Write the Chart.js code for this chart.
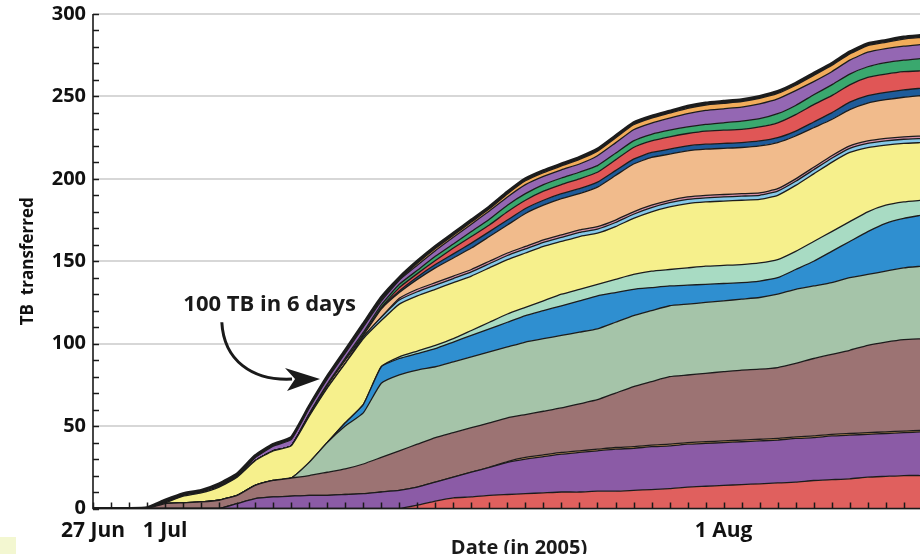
<!DOCTYPE html>
<html>
<head>
<meta charset="utf-8">
<script src="https://cdn.jsdelivr.net/npm/chart.js@4/dist/chart.umd.min.js"></script>
<style>
  html, body { margin: 0; padding: 0; background: #fff; overflow: hidden; }
  #wrap { position: relative; width: 920px; height: 554px; }
  #corner { position: absolute; left: 0; top: 537px; width: 16px; height: 17px; background: #f3f7d1; }
</style>
</head>
<body>
<div id="wrap">
  <canvas id="c" width="920" height="554"></canvas>
  <div id="corner"></div>
</div>
<script>
// Days counted from 27 June 2005
const days = [0,1,2,3,4,5,6,7,8,9, 10,11,12,13,14,15,16,17,18,19, 20,21,22,23,24,25,26,27,28,29,
  30,31,32,33,34,35,36,37,38,39, 40,41,42,43,44,45,46];

// Tick labels on the date axis
const dateTickDays = [0, 4, 35];
const dateTickLabels = ['27 Jun', '1 Jul', '1 Aug'];

// Cumulative TB transferred: upper edge of each band, bottom band first
const redBase = [0,0,0,0,0,0,0,0,0,0, 0,0,0,0,0,0,0,0,2,4.5, 6.5,7,8,8.5,9,9.5,10,10,10.5,10.5,
  11,11.5,12,13,13.5,14,14.5,15,15.5,16, 17,17.5,18,19,19.5,20,20];
const purpleBase = [0,0,0,0,0,0,0,0,3,6, 7,7.5,8,8,8.5,9,10,11,13,16, 19,22,25,28,30,31.5,33,34,35,36,
  36.5,37.5,38,39,39.5,40,40.5,41,41.5,42.5, 43,44,44.5,45,45.5,46,46.5];
const orangeThin = [0,0,0,0,0,0,0,0,3,6, 7,7.5,8,8,8.5,9,10,11,13,16, 19,22,25,28.5,31,32.5,34,35,36,37,
  37.5,38.5,39,40,40.5,41,41.5,42,42.5,43.5, 44,45,45.5,46,46.5,47,47.5];
const mauve = [0,0,0,0,3,3.5,4,5,8,14, 17,18.5,20,22,24,27,31,35,39,43, 46,49,52,55,57,59,61,63.5,66,70,
  74,77,80,81,82,83,84,84.5,85.5,88, 91,93.5,96,99,101,102.5,103];
const sage = [0,0,0,0,3,3.5,4,5,8,14, 17,18.5,28,40,50,58,76,81,84,86, 89,92,95,98,101,103,105,107,109,113,
  117,120,123,124,125,126,127,128,130,133, 135,137,140,142,144,146,147];
const blue = [0,0,0,0,3,3.5,4,5,8,14, 17,18.5,28,40,52,63,86,91,94,97, 101,105,109,113,117,120,123,126,129,131,
  133,134,135,135.5,136,136.5,137,138,140,145, 150,156,162,168,173,176,178];
const teal = [0,0,0,0,3,3.5,4,5,8,14, 17,18.5,28,40,52,63,86,92,95.5,99, 103,108,113,118,122,126,130,133,136,139,
  142,144,145,146,147,147.5,148,149,151,156, 162,168,174,180,184,186,187];
const yellow = [0,0,0,0.2,3.5,7.5,9.5,13,19,29, 35,38,56,73,88,103,114,124,129,133, 137,141,146,151,155,159,162,165,167,171,
  176,180,183,185,186,186.5,187,187.5,190,196, 203,210,216,219,220.5,221.5,222];
const lightBlue = [0,0,0,0.2,3.5,7.5,9.5,13,19,29, 35,38,56,73,88,104,116,126.5,131.5,135.5, 139.5,143.5,148.5,153.5,157.5,161.5,164.5,167.5,169.5,173.5,
  178.5,182.5,185.5,187.5,188.5,189,189.5,190,192.5,198.5, 205.5,212.5,218.5,221.5,223,224,224.5];
const pink = [0,0,0,0.2,3.5,7.5,9.5,13,19,29, 35,38,56,73,88,104,116,127.5,133,137, 141,145,150,155,159,163,166,169,171,175,
  180,184,187,189,190,190.5,191,191.5,194,200, 207,214,220,223,224.5,225.5,226];
const peach = [0,0,0,0.2,3.5,7.5,9.5,13,19,29, 35,38,57,74.5,90,105,121,131,139,146, 152,158,165,172,179,184,188,191,195,202,
  209,213,215,217,218,218.5,219,220,222,226, 231,236,242,246,248,249.5,250.5];
const darkBlue = [0,0,0,0.2,3.5,7.5,9.5,13,19,29, 35,38,57,74.5,90,105.3,121.5,132,140.5,148, 154.5,161,168,175,182,187,191,194,198,205,
  212,216,218,220,221,221.5,222,223,225,229, 234.5,240,246.5,250.5,252.5,254,255];
const red = [0,0,0,0.2,3.5,7.5,9.5,13,19,29, 35,38,57,74.5,90,105.3,122,134,142.5,150.5, 158,165,172,180,187,192.5,196.5,200,204,211.5,
  219,223,225.5,227.5,229,229.5,230,231.5,234,239, 245,250.5,257,261.5,263.5,265,265.5];
const green = [0,0,0,0.2,3.5,7.5,9.5,13,19,29, 35,38,57.5,75.5,91.3,106.8,123.5,136,144.5,153, 160.5,168,175.5,184,191,196.5,200.5,204,208,215.5,
  223,227,229.5,231.5,233,234,235,236.5,239.5,244.5, 251,257,263.5,268,270.5,272,273];
const purple = [0,0,0,0.2,3.8,7.8,9.8,13.8,19.8,30.8, 37.8,41.8,60.8,78.5,94.3,110.1,125.8,138.5,147.6,156.4, 164.5,172.5,180.5,189,196.5,201.5,205.5,209,214,221.8,
  229.8,233.8,236.8,239.6,241.5,242.5,243.5,245.5,248.5,253.5, 259,265,272,276.8,279,280.5,281.5];
const orange = [0,0,0,0.2,3.8,7.8,9.8,13.8,19.8,30.8, 37.8,41.8,60.8,78.8,94.8,110.8,126.8,138.8,148.8,157.8, 165.8,173.8,181.8,190.8,198.8,203.8,207.8,211.8,216.8,224.8,
  232.8,236.8,239.8,242.8,244.8,245.8,246.8,248.8,251.8,256.8, 262.8,268.8,275.8,280.8,282.8,284.8,285.8];
const total = [0,0,0,0.5,5,9,11,15,21,32, 39,43,62,80,96,112,128,140,150,159, 167,175,183,192,200,205,209,213,218,226,
  234,238,241,244,246,247,248,250,253,258, 264,270,277,282,284,286,287];

const bands = [
  { name: 'redBase',    values: redBase,    color: '#e0605e' },
  { name: 'purpleBase', values: purpleBase, color: '#8b5ba6' },
  { name: 'orangeThin', values: orangeThin, color: '#d9a05c' },
  { name: 'mauve',      values: mauve,      color: '#9c7373' },
  { name: 'sage',       values: sage,       color: '#a5c4a9' },
  { name: 'blue',       values: blue,       color: '#2f8fd0' },
  { name: 'teal',       values: teal,       color: '#a8dbc3' },
  { name: 'yellow',     values: yellow,     color: '#f6f08c' },
  { name: 'lightBlue',  values: lightBlue,  color: '#86c8e8' },
  { name: 'pink',       values: pink,       color: '#d891a8' },
  { name: 'peach',      values: peach,      color: '#f1bb8c' },
  { name: 'darkBlue',   values: darkBlue,   color: '#1e5b9a' },
  { name: 'red',        values: red,        color: '#e05656' },
  { name: 'green',      values: green,      color: '#3aa86e' },
  { name: 'purple',     values: purple,     color: '#9467b3' },
  { name: 'orange',     values: orange,     color: '#f2ac5a' },
  { name: 'total',      values: total,      color: '#2c2c3c' }
];

const FONT = "'Open Sans', 'Liberation Sans', sans-serif";

const datasets = bands.map((b, i) => ({
  label: b.name,
  data: days.map((d, k) => ({ x: d, y: b.values[k] })),
  backgroundColor: b.color,
  borderColor: '#1c1c1c',
  borderWidth: i === bands.length - 1 ? 3 : 1.3,
  fill: i === 0 ? 'origin' : '-1',
  pointRadius: 0,
  tension: 0.15
}));

// Inward tick marks, axis lines, annotation and the date axis title
const chartMarks = {
  id: 'chartMarks',
  afterDatasetsDraw(chart) {
    const { ctx, chartArea: a, scales: { x, y } } = chart;
    ctx.save();
    ctx.strokeStyle = '#1a1a1a';
    ctx.lineWidth = 1.5;
    for (let d = 0; d <= 45; d++) {
      const px = Math.round(x.getPixelForValue(d)) + 0.5;
      ctx.beginPath(); ctx.moveTo(px, a.bottom); ctx.lineTo(px, a.bottom - 6); ctx.stroke();
    }
    for (let v = 0; v <= 300; v += 10) {
      const py = Math.round(y.getPixelForValue(v)) + 0.5;
      ctx.beginPath(); ctx.moveTo(a.left, py); ctx.lineTo(a.left + 6, py); ctx.stroke();
    }
    ctx.lineWidth = 1.6;
    ctx.beginPath();
    ctx.moveTo(a.left, a.top);
    ctx.lineTo(a.left, a.bottom);
    ctx.lineTo(a.right, a.bottom);
    ctx.stroke();
    ctx.restore();
  },
  afterDraw(chart) {
    const { ctx, scales: { x, y } } = chart;
    ctx.save();
    ctx.fillStyle = '#1a1a1a';
    ctx.font = `bold 22px ${FONT}`;
    ctx.textAlign = 'center';
    ctx.textBaseline = 'middle';
    ctx.fillText('100 TB in 6 days', x.getPixelForValue(9.8), y.getPixelForValue(123.5));
    const sx = x.getPixelForValue(7.15), sy = y.getPixelForValue(113);
    const tx = x.getPixelForValue(12.6), ty = y.getPixelForValue(78.5);
    ctx.strokeStyle = '#1a1a1a';
    ctx.lineWidth = 3;
    ctx.beginPath();
    ctx.moveTo(sx, sy);
    ctx.bezierCurveTo(sx + 2, sy + 38, sx + 30, ty + 2, tx - 28, ty);
    ctx.stroke();
    ctx.beginPath();
    ctx.moveTo(tx, ty);
    ctx.lineTo(tx - 35, ty - 11);
    ctx.lineTo(tx - 25, ty);
    ctx.lineTo(tx - 33, ty + 12);
    ctx.closePath();
    ctx.fill();
    ctx.font = `bold 20px ${FONT}`;
    ctx.fillText('Date (in 2005)', 519, 548);
    ctx.restore();
  }
};

new Chart(document.getElementById('c'), {
  type: 'line',
  data: { datasets },
  options: {
    responsive: false,
    animation: false,
    devicePixelRatio: 1,
    layout: { padding: { top: 14, right: 0, left: 0, bottom: 0 } },
    plugins: { legend: { display: false }, tooltip: { enabled: false } },
    scales: {
      x: {
        type: 'linear',
        min: 0,
        max: 45.9,
        afterFit(s) { s.height = 45.5; s.paddingRight = 0; },
        grid: { display: false, drawTicks: false },
        border: { display: false },
        ticks: {
          stepSize: 1,
          autoSkip: false,
          includeBounds: false,
          maxRotation: 0,
          padding: 10,
          color: '#111',
          font: { family: FONT, size: 21, weight: 'bold' },
          callback(v) {
            const k = dateTickDays.indexOf(v);
            return k >= 0 ? dateTickLabels[k] : '';
          }
        }
      },
      y: {
        min: 0,
        max: 300,
        afterFit(s) { s.width = 93; s.paddingTop = 0; s.paddingBottom = 0; },
        grid: { color: '#d7d7d7', lineWidth: 2, drawTicks: false },
        border: { display: false },
        ticks: {
          stepSize: 50,
          padding: 7,
          color: '#111',
          font: { family: FONT, size: 20, weight: 'bold' }
        },
        title: {
          display: true,
          text: 'TB  transferred',
          color: '#111',
          padding: { top: 18 },
          font: { family: FONT, size: 17, weight: 'bold' }
        }
      }
    }
  },
  plugins: [chartMarks]
});
</script>
</body>
</html>
